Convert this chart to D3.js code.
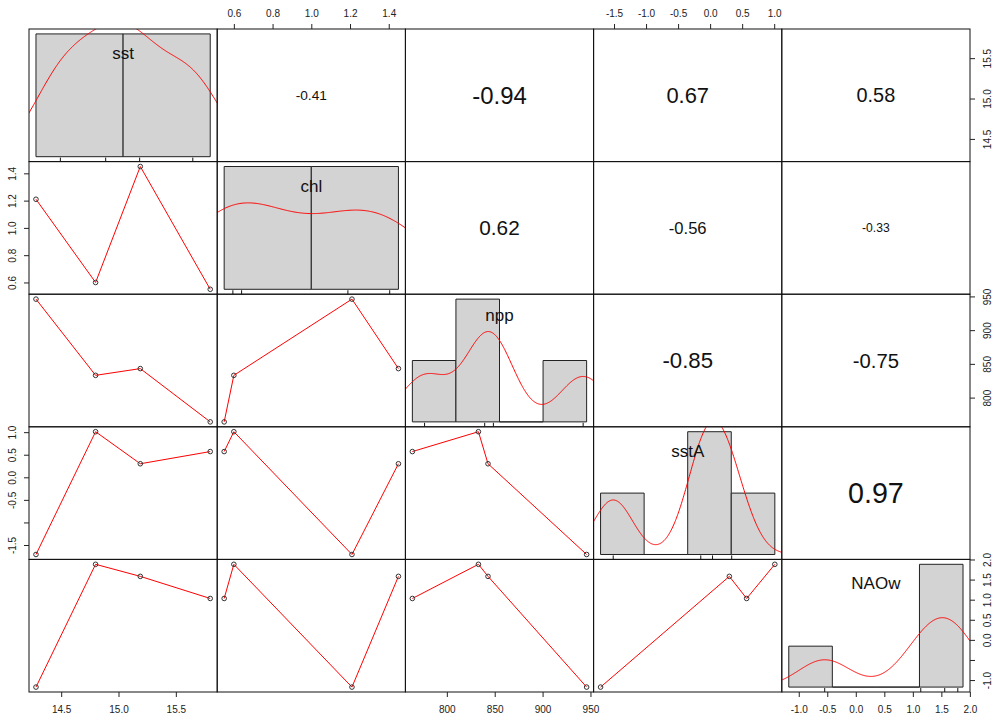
<!DOCTYPE html>
<html>
<head>
<meta charset="utf-8">
<script src="https://cdn.jsdelivr.net/npm/d3@7"></script>
<style>
  body { margin: 0; background: #fff; }
  svg { display: block; font-family: "Liberation Sans", Arial, sans-serif; }
</style>
</head>
<body>
<svg id="chart" width="999" height="720"></svg>
<script>
// ---- data: four yearly observations of each variable ----
const varNames = ["sst", "chl", "npp", "sstA", "NAOw"];
const sst  = [14.28, 14.80, 15.19, 15.80];
const chl  = [1.21, 0.60, 1.45, 0.55];
const npp  = [946, 833, 843, 764];
const sstA = [-1.71, 1.01, 0.30, 0.57];
const NAOw = [-1.175, 1.88, 1.58, 1.03];

// histogram break points for the diagonal panels
const sstBreaks  = [14, 15, 16];
const chlBreaks  = [0.5, 1.0, 1.5];
const nppBreaks  = [750, 800, 850, 900, 950];
const sstABreaks = [-2, -1, 0, 1, 2];
const NAOwBreaks = [-2, -1, 0, 1, 2];

// Pearson coefficients, upper triangle read row by row
const correlations = [-0.41, -0.94, 0.67, 0.58, 0.62, -0.56, -0.33, -0.85, -0.75, 0.97];

// axis ticks
const sstTicks  = [14.5, 15.0, 15.5];
const chlTicks  = [0.6, 0.8, 1.0, 1.2, 1.4];
const nppTicks  = [800, 850, 900, 950];
const sstATicks = [-1.5, -1.0, -0.5, 0.0, 0.5, 1.0];
const NAOwTicks = [-1.0, -0.5, 0.0, 0.5, 1.0, 1.5, 2.0];
const tickDigits = [1, 1, 0, 1, 1];
// labels dropped where they would collide on the vertical axes
const sstALeftHidden  = [-1.0];
const NAOwRightHidden = [-0.5];

// ---- layout ----
const series = [sst, chl, npp, sstA, NAOw];
const breaks = [sstBreaks, chlBreaks, nppBreaks, sstABreaks, NAOwBreaks];
const ticks  = [sstTicks, chlTicks, nppTicks, sstATicks, NAOwTicks];
const n = series.length;
const L = 29, T = 29, R = 970, B = 692;
const cw = (R - L) / n, ch = (B - T) / n;
const colX = j => L + j * cw;
const rowY = i => T + i * ch;

const svg = d3.select("#chart");
const defs = svg.append("defs");

function padded(lo, hi) {
  const d = (hi - lo) * 0.04;
  return [lo - d, hi + d];
}
const xScales = series.map((v, j) =>
  d3.scaleLinear().domain(padded(d3.min(v), d3.max(v))).range([colX(j), colX(j + 1)]));
const yScales = series.map((v, i) =>
  d3.scaleLinear().domain(padded(d3.min(v), d3.max(v))).range([rowY(i + 1), rowY(i)]));

// Gaussian kernel density with the nrd0 bandwidth rule
function bwNrd0(x) {
  const s = x.slice().sort(d3.ascending);
  const sd = d3.deviation(s);
  const iqr = d3.quantileSorted(s, 0.75) - d3.quantileSorted(s, 0.25);
  let lo = Math.min(sd, iqr / 1.34);
  if (!lo) lo = sd || Math.abs(s[0]) || 1;
  return 0.9 * lo * Math.pow(s.length, -0.2);
}
function kde(x) {
  const bw = bwNrd0(x);
  const lo = d3.min(x) - 3 * bw, hi = d3.max(x) + 3 * bw;
  const m = 512, out = [];
  for (let k = 0; k < m; k++) {
    const t = lo + (hi - lo) * k / (m - 1);
    let s = 0;
    for (const xi of x) { const z = (t - xi) / bw; s += Math.exp(-0.5 * z * z); }
    out.push([t, s / (x.length * bw * Math.sqrt(2 * Math.PI))]);
  }
  return out;
}

const fmtTick = (v, d) => v.toFixed(d).replace("\u2212", "-");

// ---- panels ----
let corIndex = 0;
for (let i = 0; i < n; i++) {
  for (let j = 0; j < n; j++) {
    const x0 = colX(j), x1 = colX(j + 1), y0 = rowY(i), y1 = rowY(i + 1);
    const clipId = `clip-${i}-${j}`;
    defs.append("clipPath").attr("id", clipId)
      .append("rect").attr("x", x0).attr("y", y0).attr("width", cw).attr("height", ch);
    const g = svg.append("g");

    if (i === j) {
      // histogram on the density scale, with kernel density and rug
      const v = series[i], b = breaks[i];
      const counts = d3.range(b.length - 1).map(k =>
        v.filter(d => (k === 0 ? d >= b[k] : d > b[k]) && d <= b[k + 1]).length);
      const dens = counts.map((c, k) => c / (v.length * (b[k + 1] - b[k])));
      const maxD = d3.max(dens);
      const span = b[b.length - 1] - b[0];
      const hx = d3.scaleLinear().domain([b[0] - 0.04 * span, b[b.length - 1] + 0.04 * span]).range([x0, x1]);
      const hy = d3.scaleLinear().domain([-0.04 * maxD, 1.04 * maxD]).range([y1, y0]);

      g.selectAll("path.bar").data(dens).join("path")
        .attr("class", "bar")
        .attr("d", (d, k) => {
          const a = hx(b[k]), c = hx(b[k + 1]), yb = hy(0), yt = hy(d);
          return `M${a},${yb}L${a},${yt}L${c},${yt}L${c},${yb}Z`;
        })
        .attr("fill", "#d3d3d3").attr("stroke", "#222").attr("stroke-width", 1);

      g.append("path").datum(kde(v))
        .attr("clip-path", `url(#${clipId})`)
        .attr("d", d3.line().x(d => hx(d[0])).y(d => hy(d[1])))
        .attr("fill", "none").attr("stroke", "#ff0000").attr("stroke-width", 1);

      g.selectAll("line.rug").data(v).join("line")
        .attr("class", "rug")
        .attr("x1", d => hx(d)).attr("x2", d => hx(d))
        .attr("y1", y1).attr("y2", y1 - 0.03 * ch)
        .attr("stroke", "#111").attr("stroke-width", 1);

      const name = varNames[i];
      const hasAscender = /[A-Zbdfhklt]/.test(name);
      g.append("text")
        .attr("x", (x0 + x1) / 2)
        .attr("y", y0 + (hasAscender ? 30 : 27))
        .attr("text-anchor", "middle")
        .attr("font-size", 17).attr("fill", "#111")
        .text(name);
    } else if (i > j) {
      // scatter of column variable against row variable with a smooth through the points
      const xs = series[j], ys = series[i];
      const pts = xs.map((d, k) => [d, ys[k]]).sort((a, c) => a[0] - c[0]);
      g.append("path").datum(pts)
        .attr("d", d3.line().x(d => xScales[j](d[0])).y(d => yScales[i](d[1])))
        .attr("fill", "none").attr("stroke", "#ff0000").attr("stroke-width", 1);
      g.selectAll("circle").data(pts).join("circle")
        .attr("cx", d => xScales[j](d[0])).attr("cy", d => yScales[i](d[1]))
        .attr("r", 2.3).attr("fill", "none").attr("stroke", "#333").attr("stroke-width", 1);
    } else {
      // correlation coefficient; the printed string's width grows with |r|
      const r = correlations[corIndex++];
      const t = g.append("text")
        .attr("x", (x0 + x1) / 2).attr("y", (y0 + y1) / 2)
        .attr("dy", "0.36em")
        .attr("text-anchor", "middle")
        .attr("font-size", 10).attr("fill", "#111")
        .text(r.toFixed(2));
      const w10 = t.node().getComputedTextLength();
      const targetWidth = 44 * (Math.abs(r) + 0.3);
      t.attr("font-size", 10 * targetWidth / w10);
    }

    g.append("rect")
      .attr("x", x0).attr("y", y0).attr("width", cw).attr("height", ch)
      .attr("fill", "none").attr("stroke", "#111").attr("stroke-width", 1);
  }
}

// ---- axes, alternating sides as in a scatterplot matrix ----
function styleAxis(sel) {
  sel.select(".domain").remove();
  sel.selectAll(".tick line").attr("stroke", "#222");
  sel.selectAll(".tick text").attr("fill", "#222").attr("font-size", 10)
    .attr("font-family", "'Liberation Sans', Arial, sans-serif");
}

for (let j = 0; j < n; j++) {
  const fmt = v => fmtTick(v, tickDigits[j]);
  if (j % 2 === 0) {
    svg.append("g").attr("transform", `translate(0,${B})`)
      .call(d3.axisBottom(xScales[j]).tickValues(ticks[j]).tickSize(5).tickPadding(9).tickFormat(fmt))
      .call(styleAxis);
  } else {
    svg.append("g").attr("transform", `translate(0,${T})`)
      .call(d3.axisTop(xScales[j]).tickValues(ticks[j]).tickSize(5).tickPadding(7.5).tickFormat(fmt))
      .call(styleAxis);
  }
}

for (let i = 0; i < n; i++) {
  const hidden = i === 3 ? sstALeftHidden : (i === 4 ? NAOwRightHidden : []);
  const fmt = v => hidden.includes(v) ? "" : fmtTick(v, tickDigits[i]);
  if (i % 2 === 1) {
    const ax = svg.append("g").attr("transform", `translate(${L},0)`)
      .call(d3.axisLeft(yScales[i]).tickValues(ticks[i]).tickSize(5).tickFormat(fmt))
      .call(styleAxis);
    ax.selectAll(".tick text")
      .attr("x", null).attr("dy", null).attr("y", null)
      .attr("text-anchor", "middle")
      .attr("transform", "translate(-13,0) rotate(-90)");
  } else {
    const ax = svg.append("g").attr("transform", `translate(${R},0)`)
      .call(d3.axisRight(yScales[i]).tickValues(ticks[i]).tickSize(5).tickFormat(fmt))
      .call(styleAxis);
    ax.selectAll(".tick text")
      .attr("x", null).attr("dy", null).attr("y", null)
      .attr("text-anchor", "middle")
      .attr("transform", "translate(21,0) rotate(-90)");
  }
}
</script>
</body>
</html>
